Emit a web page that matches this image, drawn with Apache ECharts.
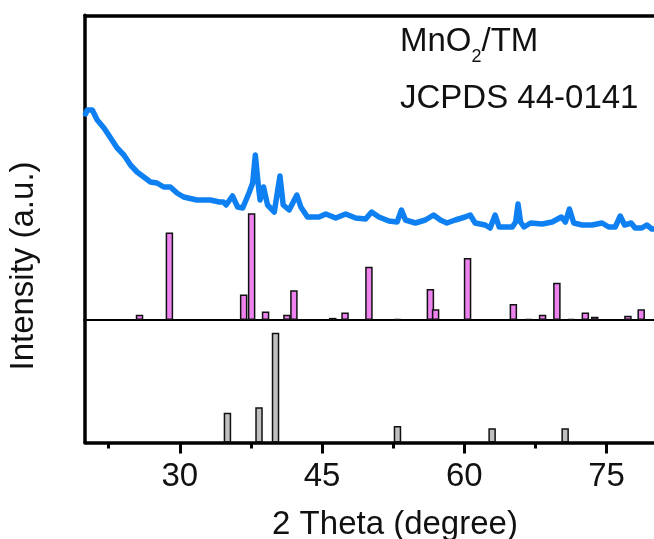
<!DOCTYPE html>
<html>
<head>
<meta charset="utf-8">
<title>MnO2/TM XRD</title>
<script src="https://cdn.jsdelivr.net/npm/echarts@6.0.0/dist/echarts.min.js"></script>
<style>
  html, body { margin: 0; padding: 0; background: #fff; }
  #chart { width: 654px; height: 539px; }
</style>
</head>
<body>
<div id="chart"></div>
<script>
// measured XRD curve of MnO2/TM (2theta, intensity a.u.)
const curveX = [20.05, 20.24, 20.77, 21.29, 22.0, 22.7, 23.39, 24.1, 24.8, 25.49, 26.2, 26.9, 27.59, 28.3, 29.0, 29.7,
  30.4, 31.8, 33.2, 34.18, 34.6, 34.88, 35.55, 36.1, 36.63, 37.33, 37.68, 37.96, 38.25, 38.46, 38.83, 39.25,
  39.96, 40.56, 40.9, 41.53, 42.34, 42.76, 43.46, 44.68, 45.39, 46.44, 47.49, 48.54, 49.59, 50.22, 50.99,
  52.04, 52.91, 53.37, 53.79, 54.84, 55.89, 56.76, 57.47, 58.16, 59.04, 60.09, 60.62, 61.14, 62.2, 62.72,
  63.25, 63.67, 64.3, 65.06, 65.41, 65.66, 65.93, 66.29, 66.99, 68.21, 69.26, 70.24, 70.66, 71.08, 71.54,
  72.42, 73.47, 74.52, 75.22, 75.91, 76.44, 76.9, 77.59, 78.01, 78.71, 79.24, 79.77, 80]
const curveY = [206, 210, 210, 200, 192, 182, 172, 165, 155, 148, 143, 138, 137, 133, 133, 127,
  123, 120, 120, 118, 118, 115, 124, 113, 112, 128, 137, 165, 137, 120, 133, 115,
  108, 144, 115, 110, 125, 113, 103, 103, 106, 102, 106, 102, 101, 108, 103,
  99, 98, 110, 100, 97, 100, 105, 100, 97, 100, 103, 105, 97, 95, 92,
  105, 93, 93, 93, 98, 116, 98, 93, 97, 96, 98, 103, 98, 111, 97,
  95, 95, 97, 93, 93, 104, 95, 97, 92, 92, 95, 91, 91]

// JCPDS 44-0141 reference lines (relative intensity)
const pinkPos = [25.75, 28.9, 36.73, 37.57, 39.04, 42.03, 46.12, 47.42, 49.94, 52.95, 56.42,
  60.34, 65.17, 66.78, 68.25, 69.76, 71.26, 72.76, 73.75, 77.25, 78.65]
const pinkInt = [5, 82, 24, 100, 8, 28, 2, 7, 50, 1, 29, 58, 15, 1, 5, 35, 1, 7, 3, 4, 10]
// lines sitting right next to another one (own axis so they keep full width)
const pinkPos2 = [41.29, 56.97]
const pinkInt2 = [5, 10]

// substrate (Ti mesh) lines
const greyPos = [35.02, 38.35, 40.09, 52.95, 62.93, 70.63]
const greyInt = [27, 32, 100, 15, 13, 13]

const majorTicks = [30, 45, 60, 75]
const minorTicks = [22.5, 37.5, 52.5, 67.5]

const FONT = "'Liberation Sans', Arial, sans-serif"

const chart = echarts.init(document.getElementById('chart'), null, { renderer: 'canvas' })

const hideAxis = {
  axisTick: { show: false },
  axisLabel: { show: false },
  splitLine: { show: false }
}
const pinkStyle = { color: '#EE82EE', borderColor: '#111', borderWidth: 1.5 }

chart.setOption({
  backgroundColor: '#fff',
  animation: false,
  grid: [
    { left: 85, top: 15.3, width: 571, height: 304.7 },  // curve + pink lines
    { left: 85, top: 320, width: 571, height: 122.5 }    // grey lines
  ],
  xAxis: [
    // divider line under the pink bars
    Object.assign({
      gridIndex: 0, type: 'value', min: 20, max: 80, position: 'bottom',
      axisLine: { onZero: false, lineStyle: { color: '#000', width: 2 } }
    }, hideAxis),
    // top frame
    Object.assign({
      gridIndex: 0, type: 'value', min: 20, max: 80, position: 'top',
      axisLine: { onZero: false, lineStyle: { color: '#000', width: 3.5 } }
    }, hideAxis),
    // real bottom axis
    {
      gridIndex: 1, type: 'value', min: 20, max: 80, position: 'bottom',
      axisLine: { onZero: false, lineStyle: { color: '#000', width: 3.5 } },
      axisTick: { show: true, customValues: majorTicks, length: 11, lineStyle: { color: '#000', width: 3 } },
      axisLabel: { show: true, customValues: majorTicks, margin: 18, fontSize: 33, color: '#111', fontFamily: FONT },
      splitLine: { show: false }
    },
    // minor ticks
    {
      gridIndex: 1, type: 'value', min: 20, max: 80, position: 'bottom',
      axisLine: { show: false, onZero: false },
      axisTick: { show: true, customValues: minorTicks, length: 6, lineStyle: { color: '#000', width: 3 } },
      axisLabel: { show: false },
      splitLine: { show: false }
    },
    // hidden axis for the overlapping pink lines
    { gridIndex: 0, type: 'value', min: 20, max: 80, show: false }
  ],
  yAxis: [
    Object.assign({
      gridIndex: 0, type: 'value', min: 0, max: 285.6,
      axisLine: { show: true, onZero: false, lineStyle: { color: '#000', width: 3.5 } }
    }, hideAxis),
    { gridIndex: 0, type: 'value', min: 0, max: 304.7, show: false },
    Object.assign({
      gridIndex: 1, type: 'value', min: 0, max: 111.6,
      axisLine: { show: true, onZero: false, lineStyle: { color: '#000', width: 3.5 } }
    }, hideAxis)
  ],
  series: [
    {
      name: 'MnO2/TM', type: 'line', xAxisIndex: 0, yAxisIndex: 1,
      data: curveX.map((x, i) => [x, curveY[i]]),
      showSymbol: false, symbol: 'none',
      lineStyle: { color: '#0F80F2', width: 5.5, join: 'round', cap: 'round' },
      z: 3
    },
    {
      name: 'JCPDS 44-0141', type: 'bar', xAxisIndex: 0, yAxisIndex: 0,
      data: pinkPos.map((x, i) => [x, pinkInt[i]]),
      barWidth: 7.5,
      itemStyle: pinkStyle
    },
    {
      name: 'JCPDS 44-0141 b', type: 'bar', xAxisIndex: 4, yAxisIndex: 0,
      data: pinkPos2.map((x, i) => [x, pinkInt2[i]]),
      barWidth: 7.5,
      itemStyle: pinkStyle
    },
    {
      name: 'Ti', type: 'bar', xAxisIndex: 2, yAxisIndex: 2,
      data: greyPos.map((x, i) => [x, greyInt[i]]),
      barWidth: 7.5,
      itemStyle: { color: '#C0C0C0', borderColor: '#111', borderWidth: 1.5 }
    }
  ],
  graphic: [
    {
      type: 'text', left: 400, top: 25,
      style: {
        text: '{a|MnO}{s|2}{a|/TM}',
        rich: {
          a: { fontSize: 33, fontFamily: FONT, fill: '#111', lineHeight: 36, padding: [0, 0, 8, 0], verticalAlign: 'bottom' },
          s: { fontSize: 18, fontFamily: FONT, fill: '#111', lineHeight: 20, verticalAlign: 'bottom' }
        }
      }
    },
    {
      type: 'text', x: 400, y: 99,
      style: { text: 'JCPDS 44-0141', font: '33px ' + FONT, fill: '#111', textVerticalAlign: 'middle' }
    },
    {
      type: 'text', x: 395, y: 525,
      style: { text: '2 Theta (degree)', font: '33px ' + FONT, fill: '#111', textAlign: 'center', textVerticalAlign: 'middle' }
    },
    {
      type: 'text', x: 24, y: 266, rotation: Math.PI / 2,
      style: { text: 'Intensity (a.u.)', font: '33px ' + FONT, fill: '#111', textAlign: 'center', textVerticalAlign: 'middle' }
    }
  ]
})
</script>
</body>
</html>
